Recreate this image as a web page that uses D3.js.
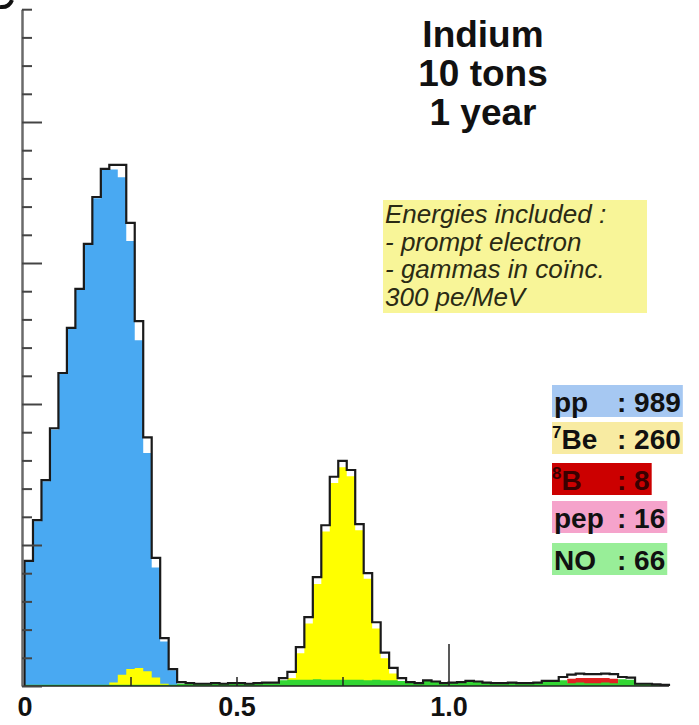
<!DOCTYPE html>
<html>
<head>
<meta charset="utf-8">
<script src="https://cdn.jsdelivr.net/npm/d3@7"></script>
<style>
  body { margin: 0; background: #fff; }
  svg { font-family: "Liberation Sans", Arial, Helvetica, sans-serif; }
</style>
</head>
<body>
<div id="chart-area"></div>
<script>
// electron energy (MeV), bins of 0.02 starting at 0
var binWidth = 0.02;

var ppCounts = [
  22.0, 29.2, 36.3, 45.5, 55.3, 63.3, 70.2, 78.2, 86.5, 91.5,
  91.6, 90.2, 78.9, 61.3, 41.3, 21.0, 7.9, 2.8, 0.3, 0.1,
  0, 0, 0, 0, 0, 0, 0, 0, 0, 0,
  0, 0, 0, 0, 0, 0, 0, 0, 0, 0,
  0, 0, 0, 0, 0, 0, 0, 0, 0, 0,
  0, 0, 0, 0, 0, 0, 0, 0, 0, 0,
  0, 0, 0, 0, 0, 0, 0, 0, 0, 0,
  0, 0, 0, 0, 0, 0
];
var be7Counts = [
  0, 0, 0, 0, 0, 0, 0, 0, 0, 0,
  0.6, 2.0, 3.0, 3.2, 2.6, 1.5, 0.4, 0, 0, 0,
  0, 0, 0, 0, 0, 0, 0, 0, 0, 0.1,
  0.4, 1.4, 5.8, 11.1, 18.1, 27.4, 36.0, 38.8, 37.2, 27.6,
  19.0, 10.2, 4.9, 2.2, 0.5, 0, 0, 0, 0, 0,
  0, 0, 0, 0, 0, 0, 0, 0, 0, 0,
  0, 0, 0, 0, 0, 0, 0, 0, 0, 0,
  0, 0, 0, 0, 0, 0
];
var b8Counts = [
  0, 0, 0, 0, 0, 0, 0, 0, 0, 0,
  0, 0, 0, 0, 0, 0, 0, 0, 0, 0,
  0, 0, 0, 0, 0, 0, 0, 0, 0, 0,
  0, 0, 0, 0, 0, 0, 0, 0, 0, 0,
  0, 0, 0, 0, 0, 0, 0, 0, 0, 0,
  0, 0, 0, 0, 0, 0, 0, 0, 0, 0,
  0, 0, 0, 0, 1.3, 1.4, 1.4, 1.4, 1.4, 1.3,
  0, 0, 0, 0, 0, 0
];
var pepCounts = [
  0, 0, 0, 0, 0, 0, 0, 0, 0, 0,
  0, 0, 0, 0, 0, 0, 0, 0, 0, 0,
  0, 0, 0, 0, 0, 0, 0, 0, 0, 0,
  0, 0, 0, 0, 0, 0, 0, 0, 0, 0,
  0, 0, 0, 0, 0, 0, 0, 0, 0, 0,
  0, 0, 0, 0, 0, 0, 0, 0, 0, 0,
  0, 0, 0, 0.6, 0.2, 0.2, 0.2, 0.2, 0.2, 0.3,
  0.4, 0.4, 0, 0, 0, 0
];
var noCounts = [
  0.2, 0.2, 0.2, 0.2, 0.2, 0.2, 0.2, 0.2, 0.2, 0.2,
  0.2, 0.2, 0.2, 0.2, 0.2, 0.2, 0.2, 0.2, 0.4, 0.4,
  0.4, 0.4, 0.5, 0.4, 0.5, 0.5, 0.4, 0.5, 0.6, 0.5,
  1.0, 1.1, 1.1, 1.1, 1.2, 1.1, 1.1, 1.1, 1.1, 1.1,
  1.0, 1.1, 1.0, 1.0, 0.9, 0.7, 0.5, 1.0, 0.8, 0.5,
  0.6, 0.7, 0.9, 0.8, 0.6, 0.5, 0.5, 0.6, 0.5, 0.5,
  0.6, 0.9, 0.9, 1.0, 0.5, 0.6, 0.5, 0.5, 0.6, 0.5,
  1.2, 1.1, 0.4, 0.4, 0.3, 0.2
];

var xTickLabels = [0, 0.5, 1.0];
var xTickMarks = [0.25, 0.5, 0.75, 1.0];
var titleLines = ["Indium", "10 tons", "1 year"];
var noteLines = ["Energies included :", "- prompt electron", "- gammas in coïnc.", "300 pe/MeV"];
var legendLabels = ["pp", "7Be", "8B", "pep", "NO"];
var legendTotals = [989, 260, 8, 16, 66];

var nBins = ppCounts.length;
var totalCounts = ppCounts.map((d, i) => d + be7Counts[i] + b8Counts[i] + pepCounts[i] + noCounts[i]);

var svg = d3.select("#chart-area").append("svg")
    .attr("width", 699)
    .attr("height", 725);

var x = d3.scaleLinear()
    .domain([0, nBins * binWidth])
    .range([24.5, 24.5 + nBins * binWidth * 424]);

var y = d3.scaleLinear()
    .domain([0, 120])
    .range([686, 686 - 120 * 5.64]);

function stepPoints(counts) {
    var pts = counts.map((d, i) => [i * binWidth, d]);
    pts.push([nBins * binWidth, counts[nBins - 1]]);
    return pts;
}

var area = d3.area()
    .curve(d3.curveStepAfter)
    .x((d) => x(d[0]))
    .y0(y(0))
    .y1((d) => y(d[1]));

// each component is filled from the baseline, total drawn as outline
var fills = [
    {counts: ppCounts, color: "#49a9f2"},
    {counts: be7Counts, color: "#ffff00"},
    {counts: pepCounts, color: "#f28cc0"},
    {counts: b8Counts, color: "#e02222"},
    {counts: noCounts, color: "#33d633"}
];

svg.append("g").selectAll("path").data(fills).enter()
    .append("path")
        .attr("d", (d) => area(stepPoints(d.counts)))
        .attr("fill", (d) => d.color);

var outlinePts = [[0, 0]].concat(stepPoints(totalCounts));
outlinePts.push([nBins * binWidth, 0]);
svg.append("path")
    .attr("d", d3.line().curve(d3.curveStepAfter).x((d) => x(d[0])).y((d) => y(d[1]))(outlinePts))
    .attr("fill", "none")
    .attr("stroke", "#1a1a1a")
    .attr("stroke-width", 2.2);

// baseline
svg.append("line")
    .attr("x1", 22).attr("x2", x(nBins * binWidth))
    .attr("y1", y(0)).attr("y2", y(0))
    .attr("stroke", "#222").attr("stroke-width", 1.5);

// y axis, no labels, ticks pointing into the frame
var yAxis = svg.append("g")
    .attr("transform", "translate(22,0)")
    .call(d3.axisRight(y).tickValues(d3.range(0, 121, 5)).tickSize(10).tickSizeOuter(0).tickFormat(""));
yAxis.select(".domain").attr("stroke", "#6a6a6a").attr("stroke-width", 2.5);
yAxis.selectAll(".tick line")
    .attr("stroke", "#444").attr("stroke-width", 2)
    .attr("x2", (d) => d % 25 === 0 ? 20 : 10);

// x ticks go up from the baseline
var xAxisTicks = svg.append("g")
    .attr("transform", "translate(0," + y(0) + ")")
    .call(d3.axisTop(x).tickValues(xTickMarks).tickSize(9).tickSizeOuter(0).tickFormat(""));
xAxisTicks.select(".domain").remove();
xAxisTicks.selectAll(".tick line")
    .attr("stroke", "#222").attr("stroke-width", 1.5)
    .attr("y2", (d) => d === 1.0 ? -42 : -9);

var xAxisLabels = svg.append("g")
    .attr("transform", "translate(0," + y(0) + ")")
    .call(d3.axisBottom(x).tickValues(xTickLabels).tickSize(0).tickPadding(11)
        .tickFormat((d) => d === 0 ? "0" : d3.format(".1f")(d)));
xAxisLabels.select(".domain").remove();
xAxisLabels.selectAll("text")
    .attr("font-family", "'Liberation Sans', Arial, sans-serif")
    .attr("font-size", 27)
    .attr("font-weight", "bold")
    .attr("fill", "#111");

// bit of the cropped panel letter in the corner
svg.append("path")
    .attr("d", "M0,7 Q9,8 12,0")
    .attr("fill", "none")
    .attr("stroke", "#111")
    .attr("stroke-width", 4);

// title
svg.append("g").selectAll("text").data(titleLines).enter()
    .append("text")
        .attr("x", 483)
        .attr("y", (d, i) => 47 + i * 39)
        .attr("text-anchor", "middle")
        .attr("font-size", 37)
        .attr("font-weight", "bold")
        .attr("fill", "#111")
        .text((d) => d);

// note box
svg.append("rect")
    .attr("x", 383).attr("y", 200)
    .attr("width", 264).attr("height", 113)
    .attr("fill", "#f8f598");
svg.append("g").selectAll("text").data(noteLines).enter()
    .append("text")
        .attr("x", 385)
        .attr("y", (d, i) => 223 + i * 27.5)
        .attr("font-size", 26)
        .attr("font-style", "italic")
        .attr("fill", "#2a2a14")
        .text((d) => d);

// legend with event totals
var legendBox = ["#a6c8f2", "#f8eba2", "#cc0000", "#f5a3cb", "#98ee98"];
var legendInk = ["#111", "#111", "#3a0000", "#111", "#111"];
var legendBase = [412, 449, 490, 528, 570];

var rows = svg.append("g").selectAll("g").data(legendLabels).enter().append("g");
rows.each(function(label, i) {
    var row = d3.select(this);
    var rect = row.append("rect").attr("fill", legendBox[i]);
    var m = label.match(/^(\d*)(.*)$/);
    var t = row.append("text")
        .attr("x", m[1] ? 552 : 554)
        .attr("y", legendBase[i])
        .attr("font-size", 28)
        .attr("font-weight", "bold")
        .attr("fill", legendInk[i]);
    if (m[1]) {
        t.append("tspan").attr("font-size", 17).attr("dy", -11).text(m[1]);
        t.append("tspan").attr("dy", 11).text(m[2]);
    } else {
        t.append("tspan").text(m[2]);
    }
    var v = row.append("text")
        .attr("x", 617)
        .attr("y", legendBase[i])
        .attr("font-size", 28)
        .attr("font-weight", "bold")
        .attr("fill", legendInk[i])
        .text(": " + legendTotals[i]);
    var bb = v.node().getBBox();
    rect.attr("x", 552).attr("y", legendBase[i] - 27)
        .attr("width", bb.x + bb.width + 2 - 552)
        .attr("height", 32);
});
</script>
</body>
</html>
